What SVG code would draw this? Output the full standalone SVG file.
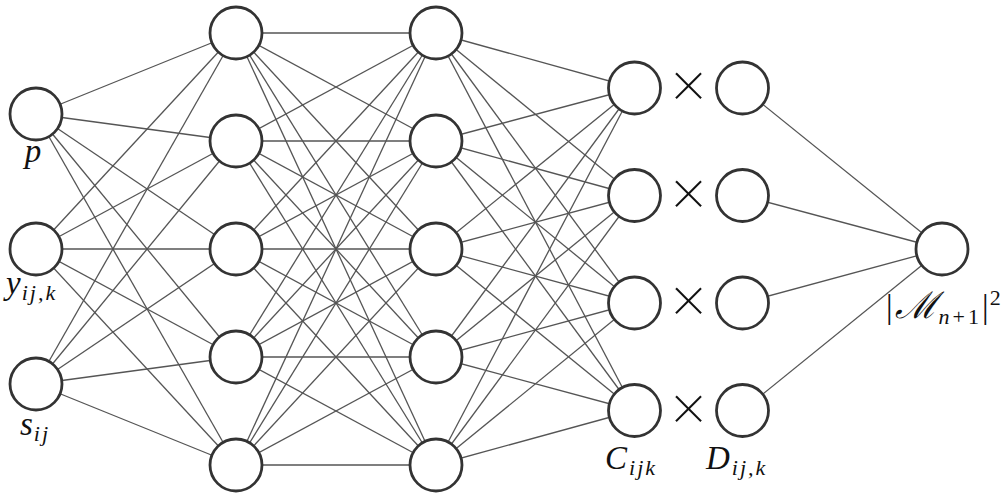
<svg xmlns="http://www.w3.org/2000/svg" width="1007" height="496" viewBox="0 0 1007 496">
<style>
.n{fill:#fff;stroke:#333;stroke-width:2.8}
.e line{stroke:#555;stroke-width:1.3}
.m{font-family:"Liberation Serif","DejaVu Serif",serif;font-style:italic;font-size:33px;fill:#111}
.s{font-size:22px;letter-spacing:2px}
.u{font-style:normal}
.x{font-family:"Liberation Serif","DejaVu Serif",serif;font-size:70px;fill:#111;stroke:#fff;stroke-width:1.3;text-anchor:middle}
</style>
<rect width="1007" height="496" fill="#fff"/>
<g id="connectors" class="e">
<!-- input -> hidden1 -->
<line x1="36" y1="114" x2="236" y2="33"/><line x1="36" y1="114" x2="236" y2="141"/><line x1="36" y1="114" x2="236" y2="249"/><line x1="36" y1="114" x2="236" y2="357"/><line x1="36" y1="114" x2="236" y2="465"/>
<line x1="36" y1="249" x2="236" y2="33"/><line x1="36" y1="249" x2="236" y2="141"/><line x1="36" y1="249" x2="236" y2="249"/><line x1="36" y1="249" x2="236" y2="357"/><line x1="36" y1="249" x2="236" y2="465"/>
<line x1="36" y1="384" x2="236" y2="33"/><line x1="36" y1="384" x2="236" y2="141"/><line x1="36" y1="384" x2="236" y2="249"/><line x1="36" y1="384" x2="236" y2="357"/><line x1="36" y1="384" x2="236" y2="465"/>
<!-- hidden1 -> hidden2 -->
<line x1="236" y1="33" x2="436" y2="33"/><line x1="236" y1="33" x2="436" y2="141"/><line x1="236" y1="33" x2="436" y2="249"/><line x1="236" y1="33" x2="436" y2="357"/><line x1="236" y1="33" x2="436" y2="465"/>
<line x1="236" y1="141" x2="436" y2="33"/><line x1="236" y1="141" x2="436" y2="141"/><line x1="236" y1="141" x2="436" y2="249"/><line x1="236" y1="141" x2="436" y2="357"/><line x1="236" y1="141" x2="436" y2="465"/>
<line x1="236" y1="249" x2="436" y2="33"/><line x1="236" y1="249" x2="436" y2="141"/><line x1="236" y1="249" x2="436" y2="249"/><line x1="236" y1="249" x2="436" y2="357"/><line x1="236" y1="249" x2="436" y2="465"/>
<line x1="236" y1="357" x2="436" y2="33"/><line x1="236" y1="357" x2="436" y2="141"/><line x1="236" y1="357" x2="436" y2="249"/><line x1="236" y1="357" x2="436" y2="357"/><line x1="236" y1="357" x2="436" y2="465"/>
<line x1="236" y1="465" x2="436" y2="33"/><line x1="236" y1="465" x2="436" y2="141"/><line x1="236" y1="465" x2="436" y2="249"/><line x1="236" y1="465" x2="436" y2="357"/><line x1="236" y1="465" x2="436" y2="465"/>
<!-- hidden2 -> C -->
<line x1="436" y1="33" x2="634.5" y2="88"/><line x1="436" y1="33" x2="634.5" y2="195.5"/><line x1="436" y1="33" x2="634.5" y2="303"/><line x1="436" y1="33" x2="634.5" y2="410.5"/>
<line x1="436" y1="141" x2="634.5" y2="88"/><line x1="436" y1="141" x2="634.5" y2="195.5"/><line x1="436" y1="141" x2="634.5" y2="303"/><line x1="436" y1="141" x2="634.5" y2="410.5"/>
<line x1="436" y1="249" x2="634.5" y2="88"/><line x1="436" y1="249" x2="634.5" y2="195.5"/><line x1="436" y1="249" x2="634.5" y2="303"/><line x1="436" y1="249" x2="634.5" y2="410.5"/>
<line x1="436" y1="357" x2="634.5" y2="88"/><line x1="436" y1="357" x2="634.5" y2="195.5"/><line x1="436" y1="357" x2="634.5" y2="303"/><line x1="436" y1="357" x2="634.5" y2="410.5"/>
<line x1="436" y1="465" x2="634.5" y2="88"/><line x1="436" y1="465" x2="634.5" y2="195.5"/><line x1="436" y1="465" x2="634.5" y2="303"/><line x1="436" y1="465" x2="634.5" y2="410.5"/>
<!-- D -> output -->
<line x1="742.5" y1="88" x2="942" y2="249"/><line x1="742.5" y1="195.5" x2="942" y2="249"/><line x1="742.5" y1="303" x2="942" y2="249"/><line x1="742.5" y1="410.5" x2="942" y2="249"/>
</g>
<g id="in-p"><circle class="n" cx="36" cy="114" r="26"/><text class="m" x="33" y="162" text-anchor="middle">p</text></g>
<g id="in-y"><circle class="n" cx="36" cy="249" r="26"/><text class="m" x="6" y="294">y<tspan class="s" dx="1" dy="6">ij,k</tspan></text></g>
<g id="in-s"><circle class="n" cx="36" cy="384" r="26"/><text class="m" x="20" y="435">s<tspan class="s" dx="1" dy="6">ij</tspan></text></g>
<g id="h1-1"><circle class="n" cx="236" cy="33" r="26"/></g>
<g id="h1-2"><circle class="n" cx="236" cy="141" r="26"/></g>
<g id="h1-3"><circle class="n" cx="236" cy="249" r="26"/></g>
<g id="h1-4"><circle class="n" cx="236" cy="357" r="26"/></g>
<g id="h1-5"><circle class="n" cx="236" cy="465" r="26"/></g>
<g id="h2-1"><circle class="n" cx="436" cy="33" r="26"/></g>
<g id="h2-2"><circle class="n" cx="436" cy="141" r="26"/></g>
<g id="h2-3"><circle class="n" cx="436" cy="249" r="26"/></g>
<g id="h2-4"><circle class="n" cx="436" cy="357" r="26"/></g>
<g id="h2-5"><circle class="n" cx="436" cy="465" r="26"/></g>
<g id="c-1"><circle class="n" cx="634.5" cy="88" r="26"/></g>
<g id="c-2"><circle class="n" cx="634.5" cy="195.5" r="26"/></g>
<g id="c-3"><circle class="n" cx="634.5" cy="303" r="26"/></g>
<g id="c-4"><circle class="n" cx="634.5" cy="410.5" r="26"/><text class="m" x="605" y="469">C<tspan class="s" dx="2" dy="6">ijk</tspan></text></g>
<g id="times">
<text class="x" x="688.5" y="109">×</text>
<text class="x" x="688.5" y="216.5">×</text>
<text class="x" x="688.5" y="324">×</text>
<text class="x" x="688.5" y="431.5">×</text>
</g>
<g id="d-1"><circle class="n" cx="742.5" cy="88" r="26"/></g>
<g id="d-2"><circle class="n" cx="742.5" cy="195.5" r="26"/></g>
<g id="d-3"><circle class="n" cx="742.5" cy="303" r="26"/></g>
<g id="d-4"><circle class="n" cx="742.5" cy="410.5" r="26"/><text class="m" x="706" y="469">D<tspan class="s" dx="2" dy="6">ij,k</tspan></text></g>
<g id="out"><circle class="n" cx="942" cy="249" r="26"/><text class="m" x="886" y="318"><tspan class="u">|</tspan><tspan dx="2" style="font-size:37px">ℳ</tspan><tspan class="s" dx="1" dy="6" style="letter-spacing:3px">n<tspan class="u">+1</tspan></tspan><tspan class="u" dy="-6">|</tspan><tspan class="s u" dx="1" dy="-13">2</tspan></text></g>
</svg>
